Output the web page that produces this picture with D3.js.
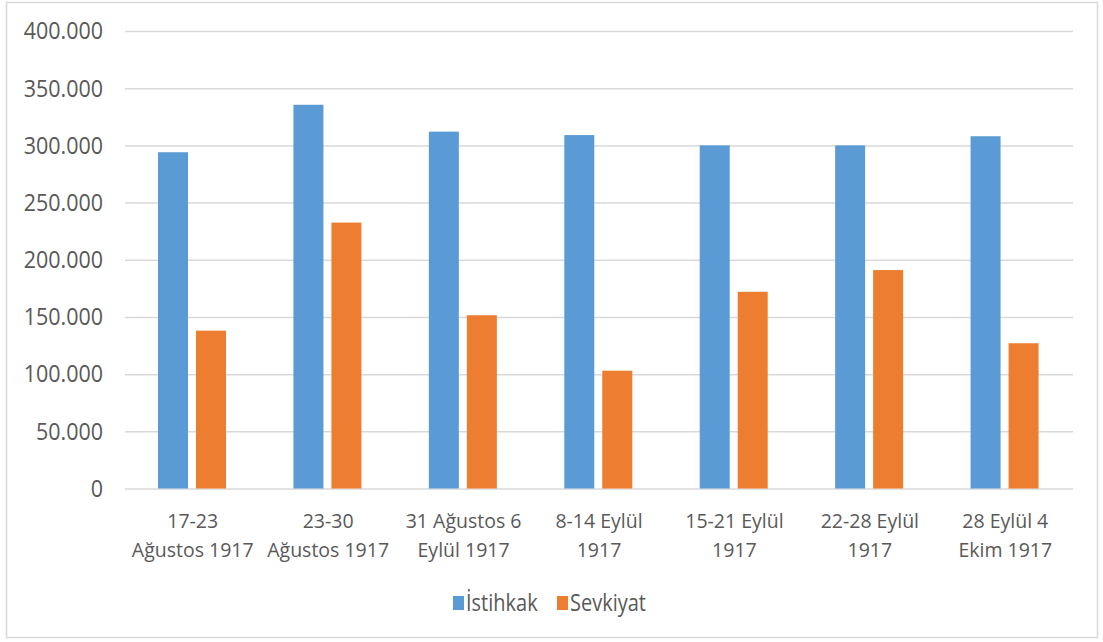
<!DOCTYPE html>
<html>
<head>
<meta charset="utf-8">
<script src="https://cdn.jsdelivr.net/npm/d3@7"></script>
<style>
  body { margin: 0; background: #fff; }
  text { font-family: "Open Sans", "Noto Sans", sans-serif; fill: #595959; }
</style>
</head>
<body>
<script>
const categories = [
    '17-23\nAğustos 1917',
    '23-30\nAğustos 1917',
    '31 Ağustos 6\nEylül 1917',
    '8-14 Eylül\n1917',
    '15-21 Eylül\n1917',
    '22-28 Eylül\n1917',
    '28 Eylül 4\nEkim 1917'
];
const istihkak = [294000, 335500, 312000, 309000, 300000, 300000, 308000];
const sevkiyat = [138000, 232500, 151500, 103000, 172000, 191000, 127000];
const seriesNames = ['İstihkak', 'Sevkiyat'];
const seriesColors = ['#5b9bd5', '#ed7d31'];
const yTicks = [0, 50000, 100000, 150000, 200000, 250000, 300000, 350000, 400000];

window.onload = () => {
    const width = 1103;
    const height = 642;
    const plot = { left: 125, right: 1073, top: 31, bottom: 488.5 };

    const svg = d3.select('body')
                  .append('svg')
                  .attr('width', width)
                  .attr('height', height);

    // chart border
    svg.append('rect')
       .attr('x', 6.5).attr('y', 2.5)
       .attr('width', 1091).attr('height', 635)
       .style('fill', 'none')
       .style('stroke', '#d9d9d9')
       .style('stroke-width', 1.5);

    const x = d3.scaleBand()
                .domain(categories)
                .range([plot.left, plot.right]);

    const y = d3.scaleLinear()
                .domain([0, 400000])
                .range([plot.bottom, plot.top]);

    const fmt = (v) => d3.format(',')(v).replace(/,/g, '.');

    // gridlines + y labels
    const yAxis = d3.axisLeft(y)
                    .tickValues(yTicks)
                    .tickFormat(fmt)
                    .tickSize(-(plot.right - plot.left))
                    .tickPadding(22);

    const gy = svg.append('g')
                  .attr('transform', `translate(${plot.left},0)`)
                  .call(yAxis);
    gy.select('.domain').remove();
    gy.selectAll('line').style('stroke', '#d9d9d9').style('stroke-width', 1.5);
    gy.selectAll('text')
      .attr('dy', null)
      .attr('y', 7)
      .attr('transform', 'scale(1,1.12)')
      .style('font-size', '21.5px')
      .style('fill', '#595959');

    // bars
    const inner = d3.scaleBand()
                    .domain([0, 1])
                    .range([33, 33 + 68])
                    .paddingInner(8 / 38);

    const series = [istihkak, sevkiyat];
    series.forEach((values, si) => {
        svg.append('g')
           .selectAll('rect')
           .data(values)
           .enter()
           .append('rect')
           .attr('x', (d, i) => x(categories[i]) + inner(si))
           .attr('y', d => y(d))
           .attr('width', inner.bandwidth())
           .attr('height', d => y(0) - y(d))
           .style('fill', seriesColors[si]);
    });

    // x labels, two lines each
    const xl = svg.append('g');
    categories.forEach((c) => {
        const t = xl.append('text')
                    .attr('text-anchor', 'middle')
                    .style('font-size', '19.5px');
        c.split('\n').forEach((line, li) => {
            t.append('tspan')
             .attr('x', x(c) + x.bandwidth() / 2)
             .attr('y', 528 + li * 28.5)
             .text(line);
        });
    });

    // legend
    const legend = svg.append('g');
    const legendX = [453, 557];
    seriesNames.forEach((name, i) => {
        legend.append('rect')
              .attr('x', legendX[i]).attr('y', 596)
              .attr('width', 11).attr('height', 14)
              .style('fill', seriesColors[i]);
        legend.append('text')
              .attr('transform', `translate(${legendX[i] + 13},611) scale(1,1.2)`)
              .style('font-size', '20px')
              .text(name);
    });
};
</script>
</body>
</html>
